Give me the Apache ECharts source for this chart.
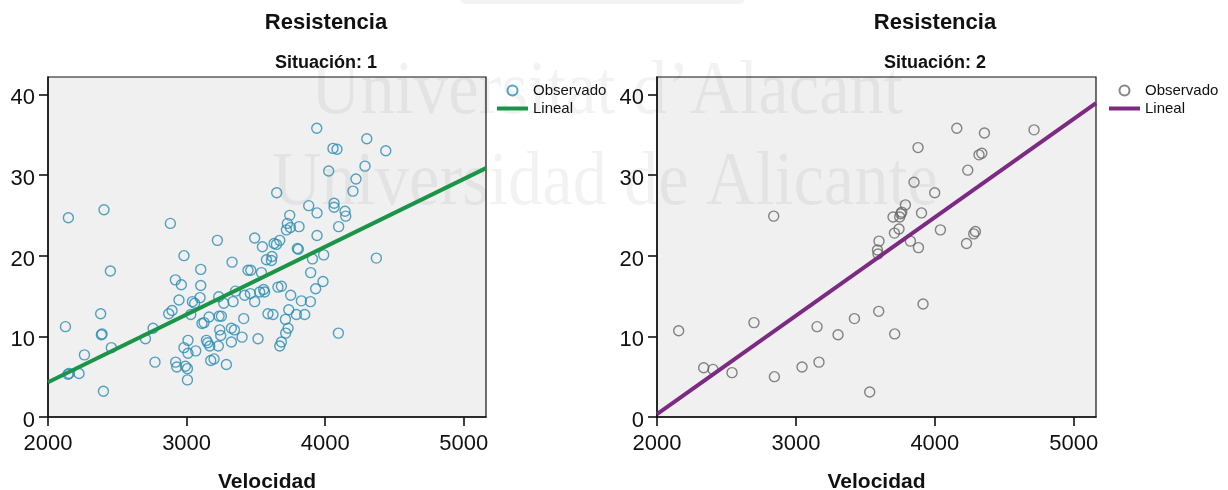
<!DOCTYPE html>
<html>
<head>
<meta charset="utf-8">
<script src="https://cdn.jsdelivr.net/npm/echarts@6/dist/echarts.min.js"></script>
<style>
  html, body { margin: 0; padding: 0; background: #fff; }
  #chart { width: 1228px; height: 490px; }
</style>
</head>
<body>
<div id="chart"></div>
<script>
// Situación 1: observed points (Velocidad, Resistencia)
const velocidad1 = [
  2126, 2147, 2404, 2450, 2152, 2144, 2224, 2263, 2380, 2390, 2385, 2400, 2457,
  2703, 2758, 2772, 2871, 2895, 2883, 2919, 2962, 2945, 2921, 2929, 2981, 2991,
  3006, 3010, 3006, 3010, 2981, 3066, 3030, 3058, 3042, 3102, 3102, 3097, 3111,
  3126, 3143, 3152, 3167, 3174, 3198, 3162, 3222, 3232, 3234, 3251, 3239, 3246,
  3229, 3287, 3268, 3323, 3323, 3345, 3335, 3352, 3400, 3412, 3419, 3443, 3328,
  3491, 3547, 3463, 3540, 3612, 3576, 3616, 3631, 3648, 3672, 3720, 3727, 3744,
  3749, 3811, 3650, 3939, 4300, 4056, 4085, 4437, 4287, 4025, 4222, 4200, 3881,
  3941, 4064, 4064, 4143, 4148, 4097, 3941, 3799, 3806, 3908, 3989, 4369, 3895,
  3984, 3931, 3460, 3491, 3527, 3556, 3563, 3659, 3684, 3751, 3828, 3893, 3587,
  3623, 3737, 3713, 3792, 3852, 3732, 3715, 3684, 3672, 3515, 4095
];
const resistencia1 = [
  11.2, 24.7, 25.7, 18.1, 5.4, 5.3, 5.4, 7.7, 12.8, 10.3, 10.2, 3.2, 8.6,
  9.7, 11.0, 6.8, 12.8, 13.2, 24.0, 17.0, 16.4, 14.5, 6.8, 6.2, 8.6, 6.3,
  6.0, 9.5, 4.6, 7.9, 20.0, 8.2, 12.7, 14.1, 14.3, 18.3, 16.3, 14.8, 11.6,
  11.7, 9.5, 9.2, 8.8, 7.0, 7.2, 12.4, 21.9, 14.9, 12.5, 12.5, 10.8, 10.1,
  8.8, 6.5, 14.1, 11.0, 9.3, 10.8, 14.3, 15.6, 9.9, 12.2, 15.1, 18.2, 19.2,
  22.2, 21.1, 18.2, 17.9, 19.4, 19.5, 19.9, 21.5, 21.4, 21.9, 23.2, 24.0, 25.0,
  23.5, 23.6, 27.8, 35.8, 34.5, 33.3, 33.2, 33.0, 31.1, 30.5, 29.5, 28.0, 26.2,
  25.3, 26.5, 26.0, 25.5, 24.9, 23.6, 22.5, 20.9, 20.8, 19.6, 20.1, 19.7, 17.9,
  16.8, 15.9, 15.3, 14.3, 15.5, 15.8, 15.5, 16.1, 16.2, 15.1, 14.4, 14.3, 12.8,
  12.7, 13.3, 12.1, 12.7, 12.7, 11.0, 10.4, 9.3, 8.8, 9.7, 10.4
];

// Situación 2: observed points
const velocidad2 = [
  2156, 2336, 2403, 2540, 2698, 2840, 2845, 3044, 3152, 3166, 3303, 3421, 3531,
  3596, 3587, 3591, 3598, 3699, 3711, 3742, 3709, 3747, 3755, 3762, 3788, 3824,
  3850, 3879, 3882, 3904, 3915, 3999, 4040, 4158, 4228, 4237, 4280, 4292, 4318,
  4338, 4357, 4714
];
const resistencia2 = [
  10.7, 6.1, 5.9, 5.5, 11.7, 24.9, 5.0, 6.2, 11.2, 6.8, 10.2, 12.2, 3.1,
  13.1, 20.7, 20.2, 21.8, 24.8, 10.3, 23.3, 22.8, 24.8, 25.2, 25.4, 26.3, 21.8,
  29.1, 33.4, 21.0, 25.3, 14.0, 27.8, 23.2, 35.8, 21.5, 30.6, 22.7, 23.0, 32.5,
  32.7, 35.2, 35.6
];

// Linear fit end points for each situation
const linealX = [2000, 5160];
const lineal1Y = [4.3, 30.85];
const lineal2Y = [0.35, 38.9];

// Axis ticks
const xTicks = [2000, 3000, 4000, 5000];
const yTicks = [0, 10, 20, 30, 40];

const pairs = (xs, ys) => xs.map((x, i) => [x, ys[i]]);

const FONT = '"Liberation Sans", Arial, Helvetica, sans-serif';
const BLUE = '#2b8cb3';
const GREEN = '#1b9448';
const GREY = '#666666';
const PURPLE = '#7d2a82';
const CLEAR = 'rgba(0,0,0,0)';

function xAxisFor(gridIndex) {
  return {
    type: 'value', gridIndex,
    min: 2000, max: 5160, interval: 1000,
    name: 'Velocidad', nameLocation: 'middle', nameGap: 55,
    nameTextStyle: { fontFamily: FONT, fontSize: 21, fontWeight: 'bold', color: '#111' },
    axisLine: { show: true, onZero: false, lineStyle: { color: '#111', width: 1.5 } },
    axisTick: { show: true, inside: false, length: 9, lineStyle: { color: '#111', width: 1.6 },
      customValues: xTicks },
    axisLabel: { fontFamily: FONT, fontSize: 22, color: '#111', margin: 16,
      customValues: xTicks, formatter: v => String(v) },
    splitLine: { show: false }
  };
}
function yAxisFor(gridIndex) {
  return {
    type: 'value', gridIndex,
    min: 0, max: 42.15, interval: 10,
    axisLine: { show: true, onZero: false, lineStyle: { color: '#111', width: 1.5 } },
    axisTick: { show: true, inside: false, length: 9, lineStyle: { color: '#111', width: 1.6 },
      customValues: yTicks },
    axisLabel: { color: '#111', margin: 13, customValues: yTicks,
      formatter: v => '{n|' + v + '}',
      rich: { n: { fontFamily: FONT, fontSize: 22, color: '#111', padding: [8, 0, 0, 0] } } },
    splitLine: { show: false }
  };
}

function legendFor(idx, left) {
  return {
    data: ['Observado-' + idx, 'Lineal-' + idx], orient: 'vertical',
    left, top: 83, padding: 0,
    itemWidth: 31, itemHeight: 10, itemGap: 3, selectedMode: false,
    lineStyle: { width: 4 },
    formatter: n => n.split('-')[0],
    textStyle: { fontFamily: FONT, fontSize: 15, color: '#111' }
  };
}

const chart = echarts.init(document.getElementById('chart'), null, { renderer: 'canvas' });

const titleStyle = { fontFamily: FONT, fontSize: 22, fontWeight: 'bold', color: '#111' };
const subStyle = { fontFamily: FONT, fontSize: 18, fontWeight: 'bold', color: '#111' };

const option = {
  backgroundColor: '#ffffff',
  animation: false,
  textStyle: { fontFamily: FONT },
  title: [
    { text: 'Resistencia', left: 321, top: 7, textAlign: 'center', textStyle: titleStyle },
    { text: 'Situación: 1', left: 321, top: 49, textAlign: 'center', textStyle: subStyle },
    { text: 'Resistencia', left: 930, top: 7, textAlign: 'center', textStyle: titleStyle },
    { text: 'Situación: 2', left: 930, top: 49, textAlign: 'center', textStyle: subStyle }
  ],
  legend: [legendFor(1, 495), legendFor(2, 1107)],
  grid: [
    { left: 48, top: 77, width: 438, height: 340, show: true, outerBoundsMode: 'none',
      containLabel: false,
      backgroundColor: '#f0f0f0', borderColor: '#111', borderWidth: 1.2 },
    { left: 657, top: 77, width: 439, height: 340, show: true, outerBoundsMode: 'none',
      containLabel: false,
      backgroundColor: '#f0f0f0', borderColor: '#111', borderWidth: 1.2 }
  ],
  xAxis: [xAxisFor(0), xAxisFor(1)],
  yAxis: [yAxisFor(0), yAxisFor(1)],
  graphic: [
    // University watermark behind the marks
    { type: 'rect', z: 1, silent: true,
      shape: { x: 460, y: -12, width: 285, height: 16, r: 6 },
      style: { fill: 'rgba(0,0,0,0.05)' } },
    { type: 'text', z: 1, silent: true, x: 607, y: 93, scaleX: 0.89,
      style: { text: 'Universitat d\u2019Alacant', x: 0, y: 0,
        font: '77px "Liberation Serif", "DejaVu Serif", serif',
        textAlign: 'center', textVerticalAlign: 'middle', fill: 'rgba(0,0,0,0.05)' } },
    { type: 'text', z: 1, silent: true, x: 605, y: 184, scaleX: 0.89,
      style: { text: 'Universidad de Alicante', x: 0, y: 0,
        font: '77px "Liberation Serif", "DejaVu Serif", serif',
        textAlign: 'center', textVerticalAlign: 'middle', fill: 'rgba(0,0,0,0.05)' } }
  ],
  series: [
    { name: 'Observado-1', type: 'scatter', xAxisIndex: 0, yAxisIndex: 0, z: 3,
      symbol: 'circle', symbolSize: 10,
      itemStyle: { color: CLEAR, borderColor: BLUE, borderWidth: 1.4 },
      data: pairs(velocidad1, resistencia1) },
    { name: 'Lineal-1', type: 'line', xAxisIndex: 0, yAxisIndex: 0, z: 4,
      symbol: 'none', itemStyle: { color: CLEAR, borderColor: CLEAR, borderWidth: 0 },
      lineStyle: { color: GREEN, width: 4 },
      data: pairs(linealX, lineal1Y) },
    { name: 'Observado-2', type: 'scatter', xAxisIndex: 1, yAxisIndex: 1, z: 3,
      symbol: 'circle', symbolSize: 10,
      itemStyle: { color: CLEAR, borderColor: GREY, borderWidth: 1.4 },
      data: pairs(velocidad2, resistencia2) },
    { name: 'Lineal-2', type: 'line', xAxisIndex: 1, yAxisIndex: 1, z: 4,
      symbol: 'none', itemStyle: { color: CLEAR, borderColor: CLEAR, borderWidth: 0 },
      lineStyle: { color: PURPLE, width: 4 },
      data: pairs(linealX, lineal2Y) }
  ]
};

chart.setOption(option);
</script>
</body>
</html>
